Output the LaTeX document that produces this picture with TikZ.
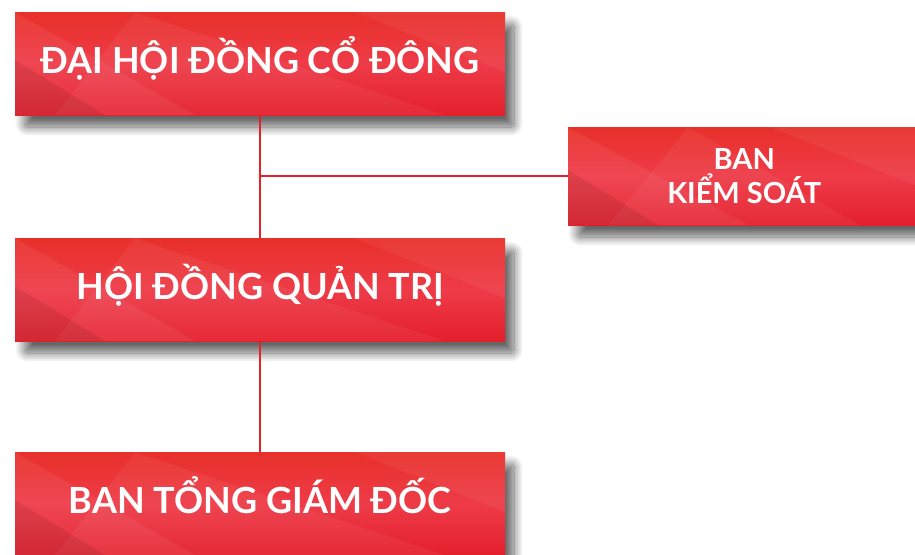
\documentclass[tikz,border=0pt]{standalone}
\usepackage{fontspec}
\setmainfont{Lato}
\usetikzlibrary{shadows.blur}
\definecolor{redA}{HTML}{E8302A}
\definecolor{redB}{HTML}{EE3B48}
\definecolor{redC}{HTML}{E41F2C}
\definecolor{lineR}{HTML}{E3222C}
\tikzset{
  box/.style={rectangle, anchor=north west, inner sep=0pt,
    top color=redA, bottom color=redC, middle color=redB,
    text=white, font=\bfseries\fontsize{36}{42}\selectfont,
    text height=26pt, text depth=6pt,
    path picture={
      \fill[white,opacity=0.06] (path picture bounding box.north west) -- ([xshift=180pt]path picture bounding box.south west) -- (path picture bounding box.south west) -- cycle;
      \fill[white,opacity=0.05] ([xshift=120pt]path picture bounding box.north west) -- ([xshift=-60pt]path picture bounding box.south east) -- ([xshift=40pt]path picture bounding box.south west) -- cycle;
      \fill[black,opacity=0.08] (path picture bounding box.south west) -- ([yshift=55pt]path picture bounding box.south west) -- ([xshift=90pt]path picture bounding box.south west) -- cycle;
      \fill[white,opacity=0.05] ([xshift=-150pt]path picture bounding box.north east) -- (path picture bounding box.north east) -- ([yshift=-60pt]path picture bounding box.north east) -- cycle;
    },
    blur shadow={shadow xshift=9pt, shadow yshift=-12pt, shadow blur steps=18, shadow opacity=60, shadow blur extra rounding=3pt, shadow blur radius=9pt}},
  smallbox/.style={box, font=\bfseries\fontsize{29}{35}\selectfont, align=center, text height=, text depth=},
  conn/.style={draw=lineR, line width=2.2pt}
}
\begin{document}
\begin{tikzpicture}[x=1pt,y=-1pt]
\useasboundingbox (0,0) rectangle (915,554);
\node[box, minimum width=490pt, minimum height=103pt] (dh) at (15,12) {ĐẠI HỘI ĐỒNG CỔ ĐÔNG};
\node[smallbox, minimum width=352pt, minimum height=98pt] (bks) at (568,127) {BAN\\[-1pt]KIỂM SOÁT};
\node[box, minimum width=490pt, minimum height=103pt] (hd) at (15,238) {HỘI ĐỒNG QUẢN TRỊ};
\node[box, minimum width=490pt, minimum height=103pt] (btg) at (15,452) {BAN TỔNG GIÁM ĐỐC};
\draw[conn] (dh.south) -- (hd.north);
\draw[conn] (dh.south |- bks.west) -- (bks.west);
\draw[conn] (hd.south) -- (btg.north);
\end{tikzpicture}
\end{document}
